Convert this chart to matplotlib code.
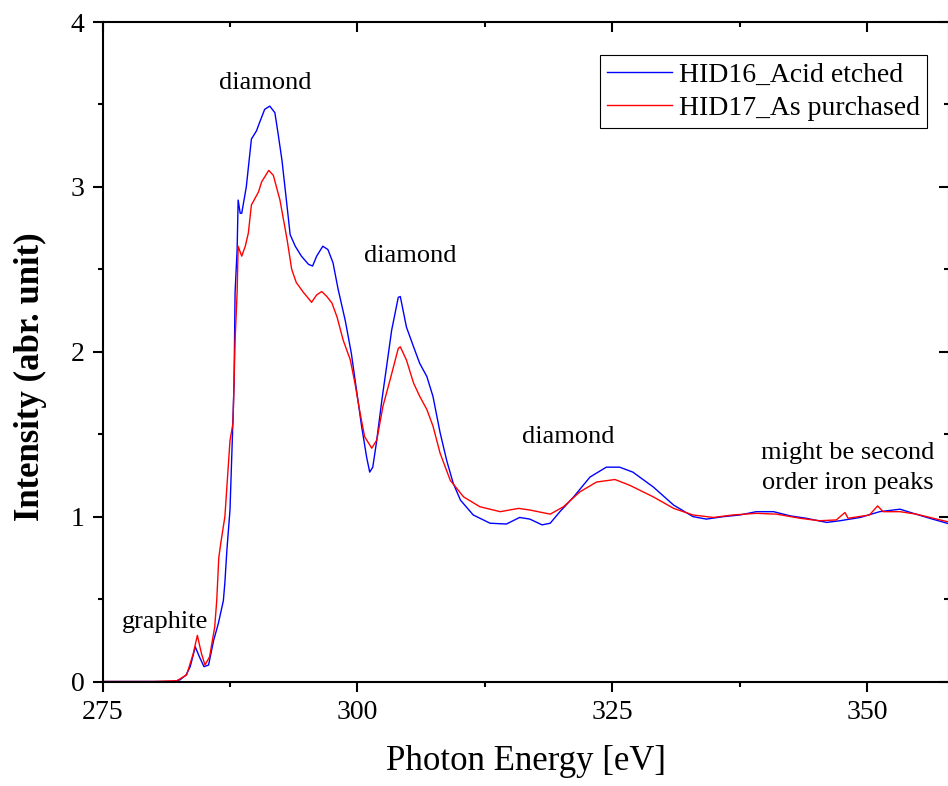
import matplotlib
matplotlib.use('Agg')
import matplotlib.pyplot as plt
from matplotlib.ticker import MultipleLocator

plt.rcParams['font.family'] = ['Liberation Serif', 'DejaVu Serif']

# HID16 (acid etched) - blue
e16 = [275, 280, 282, 282.6, 283.2, 283.6, 284.1, 284.5, 284.95, 285.4, 285.9, 286.35,
       286.85, 287.0, 287.2, 287.5, 287.75, 287.9, 288.0, 288.2, 288.3, 288.5, 288.65,
       289.1, 289.6, 290.1, 290.4, 290.9, 291.4, 291.9, 292.2, 292.6, 293.1, 293.4,
       293.9, 294.5, 295.2, 295.6, 296.0, 296.6, 297.1, 297.6, 298.1, 298.8, 299.4,
       299.9, 300.4, 300.9, 301.2, 301.5, 301.85, 302.4, 302.9, 303.35, 304.0, 304.2,
       304.8, 305.5, 306.1, 306.8, 307.4, 308.1, 308.75, 309.4, 310.1, 311.35, 313.0,
       314.6, 315.9, 316.9, 318.1, 318.9, 319.85, 321.2, 322.8, 324.4, 325.7, 327.0,
       329.0, 331.0, 332.9, 334.2, 335.9, 337.5, 339.1, 340.8, 342.4, 344.0, 346.0,
       347.3, 349.3, 351.2, 353.2, 354.5, 356.1, 357.8, 359]
i16 = [0, 0, 0, 0.01, 0.04, 0.09, 0.21, 0.15, 0.09, 0.10, 0.25, 0.35,
       0.49, 0.60, 0.80, 1.04, 1.51, 1.81, 2.36, 2.62, 2.92, 2.84, 2.84,
       3.0, 3.29, 3.34, 3.39, 3.47, 3.49, 3.45, 3.33, 3.16, 2.88, 2.71,
       2.64, 2.58, 2.53, 2.52, 2.58, 2.64, 2.62, 2.54, 2.38, 2.19, 1.99,
       1.77, 1.55, 1.36, 1.27, 1.30, 1.445, 1.71, 1.93, 2.13, 2.33, 2.335,
       2.15, 2.03, 1.93, 1.85, 1.73, 1.51, 1.34, 1.20, 1.10, 1.01, 0.96,
       0.955, 0.995, 0.985, 0.95, 0.96, 1.03, 1.12, 1.24, 1.30, 1.30, 1.27,
       1.18, 1.07, 1.00, 0.985, 1.00, 1.01, 1.03, 1.03, 1.005, 0.99, 0.965,
       0.975, 0.995, 1.03, 1.045, 1.02, 0.99, 0.96, 0.95]

# HID17 (as purchased) - red
e17 = [275, 280, 282.3, 283.25, 283.9, 284.3, 284.7, 285.05, 285.5, 286.0, 286.2,
       286.4, 286.6, 287.0, 287.5, 287.8, 288.0, 288.2, 288.3, 288.65, 289.0, 289.3,
       289.6, 290.3, 290.6, 291.3, 291.75, 292.4, 293.1, 293.55, 294.0, 294.7, 295.5,
       296.0, 296.5, 297.0, 297.5, 298.0, 298.6, 299.3, 299.75, 300.25, 300.7, 301.4,
       301.9, 302.5, 303.2, 304.0, 304.2, 304.8, 305.5, 306.1, 306.8, 307.4, 308.1,
       309.1, 310.4, 312.0, 314.0, 315.8, 316.9, 318.9, 320.2, 321.8, 323.45, 325.25,
       326.7, 329.0, 331.0, 332.9, 334.9, 336.8, 339.1, 341.1, 343.4, 345.3, 346.95,
       347.8, 348.1, 350.2, 351.0, 351.55, 353.2, 354.8, 357.8, 359]
i17 = [0, 0, 0.005, 0.04, 0.17, 0.28, 0.17, 0.10, 0.15, 0.33, 0.49,
       0.75, 0.84, 1.0, 1.46, 1.57, 2.07, 2.36, 2.64, 2.58, 2.64, 2.72,
       2.89, 2.97, 3.03, 3.10, 3.07, 2.92, 2.68, 2.50, 2.42, 2.36, 2.30,
       2.345, 2.365, 2.335, 2.295, 2.21, 2.07, 1.95, 1.81, 1.63, 1.485, 1.415,
       1.465, 1.67, 1.83, 2.02, 2.03, 1.95, 1.81, 1.73, 1.65, 1.55, 1.385,
       1.22, 1.12, 1.06, 1.03, 1.05, 1.04, 1.015, 1.06, 1.15, 1.21, 1.225,
       1.19, 1.12, 1.05, 1.01, 0.995, 1.01, 1.02, 1.015, 0.99, 0.975, 0.98,
       1.025, 0.99, 1.01, 1.065, 1.03, 1.03, 1.015, 0.97, 0.96]

labels = ['HID16_Acid etched', 'HID17_As purchased']

fig = plt.figure(figsize=(9.48, 7.86), dpi=100)
ax = fig.add_axes([102.5/948, 104.5/786, 846.5/948, 659.5/786])

ax.plot(e16, i16, color='#0000ff', lw=1.0, label=labels[0])
ax.plot(e17, i17, color='#ff0000', lw=1.0, label=labels[1])

ax.set_xlim(275, 358)
ax.set_ylim(0, 4)
ax.xaxis.set_major_locator(MultipleLocator(25))
ax.xaxis.set_minor_locator(MultipleLocator(12.5))
ax.yaxis.set_major_locator(MultipleLocator(1))
ax.yaxis.set_minor_locator(MultipleLocator(0.5))

for s in ax.spines.values():
    s.set_linewidth(1.5)
ax.tick_params(which='major', length=7, width=1.5, labelsize=20, direction='out', pad=6)
ax.tick_params(which='minor', length=3.5, width=1.5, direction='out')
ax.tick_params(axis='x', which='both', top=True)
ax.tick_params(axis='y', which='both', right=True)
# top and right ticks point inward
for t in ax.xaxis.get_major_ticks() + ax.xaxis.get_minor_ticks():
    t.tick2line.set_marker(3)
for t in ax.yaxis.get_major_ticks() + ax.yaxis.get_minor_ticks():
    t.tick2line.set_marker(0)

ax.set_xlabel('Photon Energy [eV]', fontsize=25, labelpad=15)
ax.set_ylabel('Intensity (abr. unit)', fontsize=25, fontweight='bold')
ax.yaxis.set_label_coords(-0.066, 0.462)

ax.text(291.0, 3.63, 'diamond', fontsize=19, ha='center', va='center')
ax.text(305.2, 2.58, 'diamond', fontsize=19, ha='center', va='center')
ax.text(320.7, 1.48, 'diamond', fontsize=19, ha='center', va='center')
ax.text(281.1, 0.36, 'graphite', fontsize=19, ha='center', va='center')
ax.text(348.1, 1.295, 'might be second\norder iron peaks', fontsize=19,
        ha='center', va='center', linespacing=1.45)

leg = ax.legend(loc='upper right', bbox_to_anchor=(926.7/948, 1 - 55/786),
                bbox_transform=fig.transFigure, borderaxespad=0,
                fontsize=20, handlelength=2.34, handletextpad=0.25,
                borderpad=0.25, labelspacing=0.3, fancybox=False,
                framealpha=1, edgecolor='black')
leg.get_frame().set_linewidth(0.8)

fig.savefig('out.png', dpi=100)
